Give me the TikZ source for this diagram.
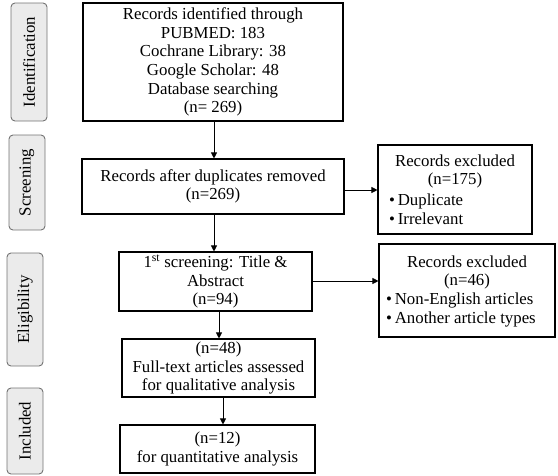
\documentclass[tikz,border=0pt]{standalone}
\usepackage{fontspec}
\setmainfont{Liberation Serif}
\usetikzlibrary{arrows.meta}
\begin{document}
\begin{tikzpicture}[x=1pt,y=-1pt,
  font=\fontsize{16.8}{18.6}\selectfont,
  box/.style={draw=black, line width=1.1pt, inner sep=1pt, align=center},
  phase/.style={draw=black!55, fill=black!8, rounded corners=4pt, line width=0.9pt, inner sep=0pt},
  arr/.style={-{Triangle[length=6pt,width=6pt]}, line width=0.8pt}
]
\useasboundingbox (0,0) rectangle (558,475);

% phase labels
\node[phase, minimum width=36pt, minimum height=118pt] (pid) at (29,62) {};
\node[rotate=90] at (pid.center) {Identification};
\node[phase, minimum width=36pt, minimum height=95pt] (psc) at (27,182.5) {};
\node[rotate=90] at (psc.center) {Screening};
\node[phase, minimum width=36pt, minimum height=113pt] (pel) at (25,309.5) {};
\node[rotate=90] at (pel.center) {Eligibility};
\node[phase, minimum width=36pt, minimum height=86pt] (pin) at (25,431) {};
\node[rotate=90] at (pin.center) {Included};

% main boxes
\node[box, minimum width=260pt, minimum height=118pt] (b1) at (213,62)
  {Records identified through\\PUBMED: 183\\Cochrane Library: 38\\Google Scholar: 48\\Database searching\\(n= 269)};
\node[box, minimum width=262pt, minimum height=55pt] (b2) at (213,186.5)
  {Records after duplicates removed\\(n=269)};
\node[box, minimum width=193pt, minimum height=59pt] (b3) at (215.5,281.5)
  {1\textsuperscript{st} screening: Title \&\\Abstract\\(n=94)};
\node[box, minimum width=193pt, minimum height=58pt] (b4) at (218.5,368)
  {(n=48)\\Full-text articles assessed\\for qualitative analysis};
\node[box, minimum width=195pt, minimum height=48pt] (b5) at (217.5,449)
  {(n=12)\\for quantitative analysis};

% exclusion boxes
\node[box, minimum width=154pt, minimum height=89pt] (e1) at (455,189.5) {};
\node[align=center] at (455,171.5) {Records excluded\\(n=175)};
\node[align=left, anchor=west, inner sep=0pt] at (389,209)
  {\textbullet\,Duplicate\\\textbullet\,Irrelevant};
\node[box, minimum width=176pt, minimum height=93pt] (e2) at (467,290.5) {};
\node[align=center] at (467,272.5) {Records excluded\\(n=46)};
\node[align=left, anchor=west, inner sep=0pt] at (386,310)
  {\textbullet\,Non-English articles\\\textbullet\,Another article types};

% connectors
\draw[arr] (b1.south -| 214,0) -- (b2.north -| 214,0);
\draw[arr] (b2.south -| 214,0) -- (b3.north -| 214,0);
\draw[arr] (b3.south -| 219,0) -- (b4.north -| 219,0);
\draw[arr] (b4.south -| 223,0) -- (b5.north -| 223,0);
\draw[arr] (b2.east |- 0,190) -- (e1.west |- 0,190);
\draw[arr] (b3.east |- 0,281) -- (e2.west |- 0,281);
\end{tikzpicture}
\end{document}
